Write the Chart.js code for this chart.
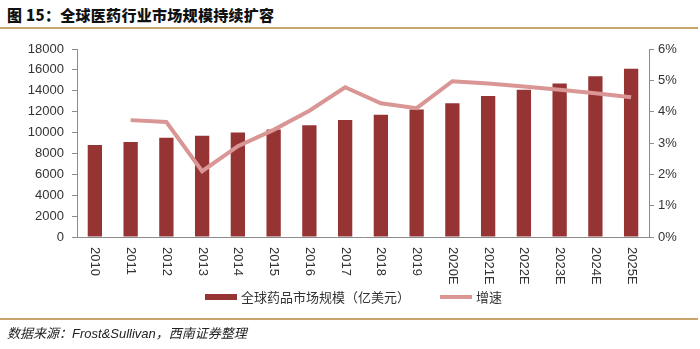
<!DOCTYPE html>
<html>
<head>
<meta charset="utf-8">
<script src="https://cdn.jsdelivr.net/npm/chart.js@4/dist/chart.umd.min.js"></script>
<style>
  html, body { margin: 0; padding: 0; background: #fff; }
  #wrap { position: relative; width: 700px; height: 349px; overflow: hidden; }
  #title { position: absolute; left: 7px; top: 4px; font: 900 15px "Noto Sans CJK SC", sans-serif; color: #111; letter-spacing: 0.3px; white-space: nowrap; }
  .rule { position: absolute; left: 0; width: 698px; height: 2px; background: #c8a66b; }
  #source { position: absolute; left: 7px; top: 323px; font: italic 13px "Noto Sans CJK SC", sans-serif; color: #222; white-space: nowrap; }
  #source .lat { font-family: "Liberation Sans", Arial, sans-serif; }
  canvas { position: absolute; left: 0; top: 0; }
</style>
</head>
<body>
<div id="wrap">
  <div id="title">图 15：全球医药行业市场规模持续扩容</div>
  <div class="rule" style="top:27px"></div>
  <canvas id="c" width="700" height="349"></canvas>
  <div class="rule" style="top:318px"></div>
  <div id="source">数据来源：<span class="lat">Frost&amp;Sullivan</span>，西南证券整理</div>
</div>
<script>
// Global pharmaceutical market size and its annual growth
const years = ['2010','2011','2012','2013','2014','2015','2016','2017','2018','2019','2020E','2021E','2022E','2023E','2024E','2025E'];
const marketSize = [8800, 9100, 9500, 9700, 10000, 10300, 10700, 11200, 11700, 12200, 12800, 13500, 14100, 14700, 15400, 16100];
const growthPct = [null, 3.73, 3.67, 2.1, 2.9, 3.42, 4.03, 4.78, 4.27, 4.11, 4.97, 4.9, 4.8, 4.7, 4.59, 4.46];
const sizeLabel = '全球药品市场规模（亿美元）';
const growthLabel = '增速';
const leftTicks = [0, 2000, 4000, 6000, 8000, 10000, 12000, 14000, 16000, 18000];
const rightTicks = [0, 1, 2, 3, 4, 5, 6];

const BAR_COLOR = '#963434';
const LINE_COLOR = '#d99694';
const AXIS_COLOR = '#8c8c8c';
const TEXT_COLOR = '#333333';
const FONT = '"Liberation Sans", Arial, sans-serif';

// x-axis labels read top-to-bottom, and a centred legend underneath
const customDraw = {
  id: 'customDraw',
  afterDraw(chart) {
    const ctx = chart.ctx;
    const x = chart.scales.x;
    ctx.save();
    ctx.fillStyle = TEXT_COLOR;
    ctx.font = '13px ' + FONT;
    ctx.textAlign = 'left';
    ctx.textBaseline = 'middle';
    x.ticks.forEach((t, i) => {
      const px = x.getPixelForTick(i);
      ctx.save();
      ctx.translate(px, chart.chartArea.bottom + 10);
      ctx.rotate(Math.PI / 2);
      ctx.fillText(years[i], 0, 0);
      ctx.restore();
    });
    ctx.restore();

    // legend: bar series first, then the growth line
    const bar = chart.data.datasets.find(d => d.type === 'bar');
    const line = chart.data.datasets.find(d => d.type === 'line');
    ctx.save();
    const ly = 297;
    ctx.font = '13px "Noto Sans CJK SC", sans-serif';
    ctx.textBaseline = 'middle';
    ctx.fillStyle = bar.backgroundColor;
    ctx.fillRect(205, ly - 3, 32, 6);
    ctx.fillStyle = TEXT_COLOR;
    ctx.fillText(bar.label, 241, ly);
    ctx.fillStyle = line.borderColor;
    ctx.fillRect(440, ly - 2, 32, 4);
    ctx.fillStyle = TEXT_COLOR;
    ctx.fillText(line.label, 476, ly);
    ctx.restore();
  }
};

new Chart(document.getElementById('c'), {
  data: {
    labels: years,
    datasets: [
      {
        type: 'line', label: growthLabel, data: growthPct, yAxisID: 'y2',
        borderColor: LINE_COLOR, borderWidth: 4, pointRadius: 0, tension: 0,
        spanGaps: false, order: 0
      },
      {
        type: 'bar', label: sizeLabel, data: marketSize, yAxisID: 'y',
        backgroundColor: BAR_COLOR, barPercentage: 0.4, categoryPercentage: 1, order: 1
      }
    ]
  },
  options: {
    responsive: false,
    animation: false,
    events: [],
    layout: { padding: { top: 49, left: 0, right: 0, bottom: 0 } },
    plugins: { legend: { display: false }, tooltip: { enabled: false }, title: { display: false } },
    scales: {
      x: {
        grid: { display: false, drawTicks: false },
        border: { color: AXIS_COLOR, width: 1 },
        ticks: { display: false },
        afterFit(s) { s.height = 112; }
      },
      y: {
        position: 'left', min: 0, max: 18000,
        afterBuildTicks(s) { s.ticks = leftTicks.map(v => ({ value: v })); },
        grid: { display: true, drawOnChartArea: false, drawTicks: true, tickLength: 5, tickColor: AXIS_COLOR },
        border: { color: AXIS_COLOR, width: 1 },
        ticks: { color: TEXT_COLOR, font: { family: FONT, size: 13 }, padding: 8, callback: v => String(v) },
        afterFit(s) { s.width = 77; }
      },
      y2: {
        position: 'right', min: 0, max: 6,
        afterBuildTicks(s) { s.ticks = rightTicks.map(v => ({ value: v })); },
        grid: { display: true, drawOnChartArea: false, drawTicks: true, tickLength: 5, tickColor: AXIS_COLOR },
        border: { color: AXIS_COLOR, width: 1 },
        ticks: { color: TEXT_COLOR, font: { family: FONT, size: 13 }, padding: 4, callback: v => v + '%' },
        afterFit(s) { s.width = 51; }
      }
    }
  },
  plugins: [customDraw]
});
</script>
</body>
</html>
